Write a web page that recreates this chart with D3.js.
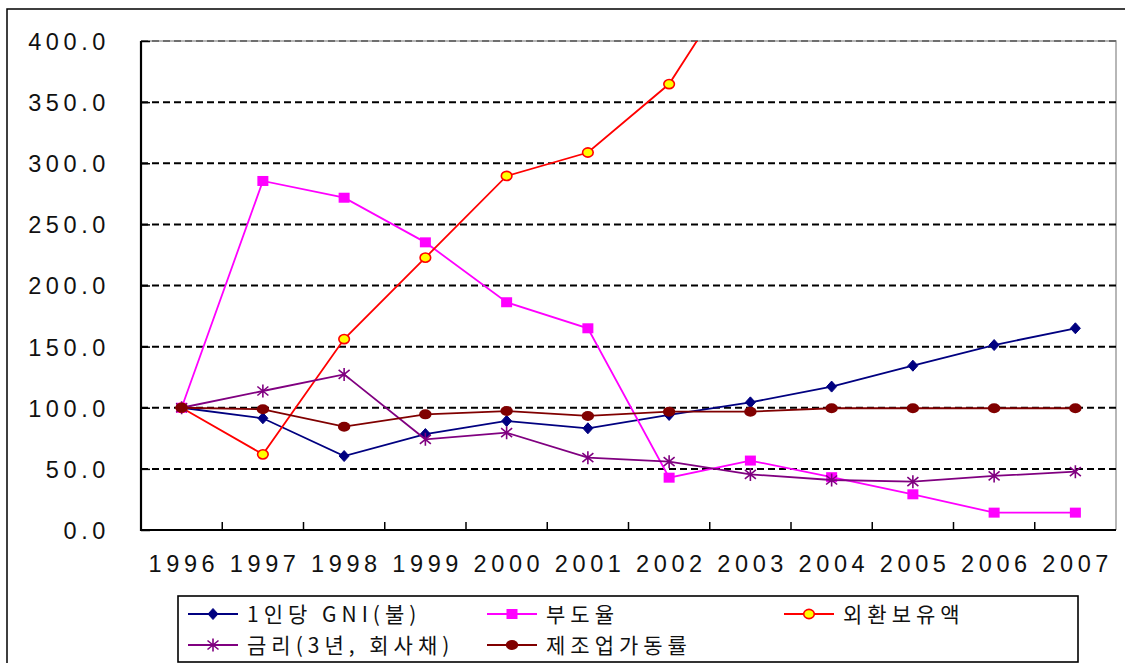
<!DOCTYPE html>
<html><head><meta charset="utf-8">
<script src="https://cdn.jsdelivr.net/npm/d3@7"></script>
<style>body{margin:0;background:#fff}svg{display:block}</style>
</head><body>
<svg id="c" width="1125" height="663"></svg>
<script>
// ---- data ----
const years = ["1996","1997","1998","1999","2000","2001","2002","2003","2004","2005","2006","2007"];
const yTicks = [0, 50, 100, 150, 200, 250, 300, 350, 400];
const gni = [100, 91.4, 60.5, 78.5, 89.2, 83.2, 94.1, 104.4, 117.3, 134.4, 151.3, 165.0];
const bankruptcy = [100, 285.5, 271.8, 235.3, 186.3, 165.0, 42.8, 56.8, 43.2, 29.2, 14.2, 14.2];
// values after 2002 lie above the plot top and are clipped (estimates)
const fxReserves = [100, 61.9, 156.2, 222.8, 289.6, 308.8, 364.8, 468, 600, 634, 720, 790];
const interest = [100, 113.7, 127.3, 74.2, 79.6, 59.2, 55.9, 45.5, 40.9, 39.5, 44.2, 47.7];
const mfgRate = [100, 98.7, 84.5, 94.6, 97.3, 93.3, 96.8, 96.8, 99.6, 99.6, 99.6, 99.6];
const seriesNames = ["1인당 GNI(불)", "부도율", "외환보유액", "금리(3년, 회사채)", "제조업가동률"];

// ---- layout ----
const svg = d3.select("#c");
const L = 141, R = 1116, T = 41, B = 530;
const x = d3.scaleBand().domain(years).range([L, R]);
const bw = x.bandwidth();
const y = d3.scaleLinear().domain([0, 400]).range([B, T]);
const numFont = "'Liberation Sans', Arial, sans-serif";
const krFont = "'Noto Sans CJK KR', sans-serif";
const LS = 4.6;

// outer frame
svg.append("rect").attr("x", 7).attr("y", 9).attr("width", 1140).attr("height", 700)
  .attr("fill", "#fff").attr("stroke", "#000").attr("stroke-width", 1.5);

// plot top/right border (grey)
svg.append("path").attr("d", `M${L},${T}H${R}V${B}`)
  .attr("fill", "none").attr("stroke", "#a0a0a0").attr("stroke-width", 1.5);

// gridlines
svg.append("g").selectAll("line").data(yTicks.filter(d => d > 0)).join("line")
  .attr("x1", L).attr("x2", R).attr("y1", d => y(d)).attr("y2", d => y(d))
  .attr("stroke", d => d === 400 ? "#6e6e6e" : "#000")
  .attr("stroke-width", 2).attr("stroke-dasharray", "7,4");

// y axis
const gy = svg.append("g").attr("transform", `translate(${L},0)`)
  .call(d3.axisLeft(y).tickValues(yTicks).tickSize(-9).tickPadding(31).tickFormat(d => d.toFixed(1)));
gy.select(".domain").remove();
gy.selectAll(".tick line").attr("stroke", "#000").attr("stroke-width", 1.5);
gy.selectAll("text").attr("font-family", numFont).attr("font-size", 23.5).attr("fill", "#111")
  .attr("letter-spacing", LS).attr("dy", "0.36em");

// x axis labels
const gx = svg.append("g").attr("transform", `translate(0,${B})`)
  .call(d3.axisBottom(x).tickSize(0).tickPadding(25));
gx.select(".domain").remove();
gx.selectAll("text").attr("font-family", numFont).attr("font-size", 23.5).attr("fill", "#111")
  .attr("letter-spacing", LS).attr("dx", LS / 2);

// x tick marks (inside, at category boundaries)
svg.append("g").selectAll("line").data(years.slice(1)).join("line")
  .attr("x1", d => x(d)).attr("x2", d => x(d)).attr("y1", B).attr("y2", B - 8)
  .attr("stroke", "#000").attr("stroke-width", 1.5);

// axis lines
svg.append("line").attr("x1", L).attr("x2", L).attr("y1", T).attr("y2", B + 1)
  .attr("stroke", "#000").attr("stroke-width", 2.2);
svg.append("line").attr("x1", L - 1).attr("x2", R).attr("y1", B).attr("y2", B)
  .attr("stroke", "#000").attr("stroke-width", 2.2);

// clip
svg.append("clipPath").attr("id", "clip").append("rect")
  .attr("x", L).attr("y", T).attr("width", R - L).attr("height", B - T + 10);

// marker drawers
function mDiamond(g, c) { g.append("path").attr("d", "M0,-5.5L5,0L0,5.5L-5,0Z").attr("fill", c).attr("stroke", c).attr("stroke-width", 1); }
function mSquare(g, c) { g.append("rect").attr("x", -5.5).attr("y", -5).attr("width", 11).attr("height", 10).attr("fill", c); }
function mCircleY(g, c) { g.append("ellipse").attr("rx", 5.3).attr("ry", 4.6).attr("fill", "#ffff00").attr("stroke", c).attr("stroke-width", 1.6); }
function mStar(g, c) { g.append("path").attr("d", "M0,-6.5V6.5M-5.5,-4.5L5.5,4.5M-5.5,4.5L5.5,-4.5").attr("fill", "none").attr("stroke", c).attr("stroke-width", 1.6); }
function mCircleB(g, c) { g.append("ellipse").attr("rx", 6.2).attr("ry", 5).attr("fill", c); }

const series = [
  { name: seriesNames[0], values: gni, color: "#000080", marker: mDiamond },
  { name: seriesNames[1], values: bankruptcy, color: "#ff00ff", marker: mSquare },
  { name: seriesNames[2], values: fxReserves, color: "#ff0000", marker: mCircleY },
  { name: seriesNames[3], values: interest, color: "#800080", marker: mStar },
  { name: seriesNames[4], values: mfgRate, color: "#800000", marker: mCircleB }
];

const line = d3.line().defined(d => d != null)
  .x((d, i) => x(years[i]) + bw / 2).y(d => y(d));

const plot = svg.append("g").attr("clip-path", "url(#clip)");
series.forEach(s => {
  const g = plot.append("g");
  g.append("path").attr("d", line(s.values)).attr("fill", "none")
    .attr("stroke", s.color).attr("stroke-width", 1.8);
  s.values.forEach((v, i) => {
    if (v == null) return;
    const m = g.append("g").attr("transform", `translate(${x(years[i]) + bw / 2},${y(v)})`);
    s.marker(m, s.color);
  });
});

// legend
const lg = svg.append("g");
lg.append("rect").attr("x", 178).attr("y", 596).attr("width", 900).attr("height", 66)
  .attr("fill", "#fff").attr("stroke", "#000").attr("stroke-width", 1.6);
const legendPos = [
  { lx: 188, ty: 614, tx: 247 },
  { lx: 487, ty: 614, tx: 546 },
  { lx: 784, ty: 614, tx: 843 },
  { lx: 188, ty: 645, tx: 247 },
  { lx: 487, ty: 645, tx: 546 }
];
series.forEach((s, i) => {
  const p = legendPos[i];
  lg.append("line").attr("x1", p.lx).attr("x2", p.lx + 50).attr("y1", p.ty).attr("y2", p.ty)
    .attr("stroke", s.color).attr("stroke-width", 1.8);
  const m = lg.append("g").attr("transform", `translate(${p.lx + 25},${p.ty})`);
  s.marker(m, s.color);
  lg.append("text").attr("x", p.tx).attr("y", p.ty + 7.5)
    .attr("font-family", krFont).attr("font-size", 21).attr("letter-spacing", 5)
    .attr("fill", "#111").text(s.name);
});
</script>
</body></html>
